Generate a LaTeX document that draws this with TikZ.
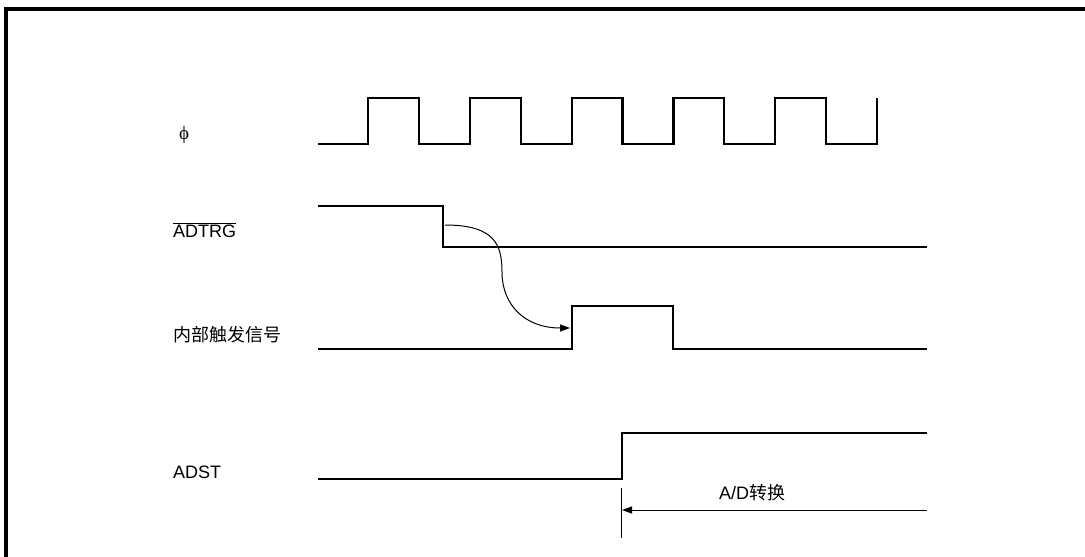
\documentclass[tikz,border=0pt]{standalone}
\usepackage{fontspec}
\setmainfont{Liberation Sans}
\newfontfamily\cjk{Noto Sans CJK SC}
\newfontfamily\serifgr{Liberation Serif}
\usetikzlibrary{arrows.meta}
\begin{document}
\begin{tikzpicture}[x=1pt, y=-1pt, >={Triangle[length=10pt,width=7pt]}]
% Stili per segnali ed etichette
\tikzset{segnale/.style={line width=2.2pt},
  etichetta/.style={anchor=base west, inner sep=0pt, font=\fontsize{18}{20}\selectfont}}

\useasboundingbox (0,0) rectangle (1085,557);

% Cornice
\draw[line width=3.5pt] (6,557) -- (6,9) -- (1085,9);

% Coordinate di riferimento
\coordinate (Tstart) at (445,225);
\coordinate (Tmid) at (502,272);
\coordinate (Tend) at (570,328);
\coordinate (Mtop) at (621,488);
\coordinate (Mbot) at (621,538);
\coordinate (Cfine) at (927,510);
\coordinate (Cinizio) at (622,510);

% --- ETICHETTE ---
\node[inner sep=0pt, font=\serifgr\fontsize{19}{21}\selectfont] (phi) at (184,135) {ϕ};
\node[etichetta] (adtrg) at (173,237) {$\overline{\mbox{ADTRG}}$};
\node[etichetta, font=\cjk\fontsize{18}{20}\selectfont] (trig) at (173,341) {内部触发信号};
\node[etichetta] (adst) at (173,478) {ADST};
\node[anchor=base, inner sep=0pt, font=\fontsize{18}{20}\selectfont] (conv) at (752,499) {A/D{\cjk 转换}};

% --- CLOCK ---
\draw[segnale] (318,144)
  \foreach \x in {368, 469.8, 571.6, 673.4, 775.2} {
    -- (\x,144) -- (\x,98) -- ({\x+50.9},98) -- ({\x+50.9},144)
  } -- (877,144) -- (877,98);

% --- ADTRG ---
\draw[segnale] (318,206) -- (443,206) -- (443,247) -- (927,247);

% --- SEGNALE DI TRIGGER INTERNO ---
\draw[segnale] (318,349) -- (572,349) -- (572,306) -- (673,306) -- (673,349) -- (927,349);

% --- ADST ---
\draw[segnale] (318,479) -- (622,479) -- (622,433) -- (927,433);

% Freccia curva dal fronte di ADTRG al trigger
\draw[->, line width=1pt] (Tstart) .. controls (495,225) and (502,245) .. (Tmid)
  .. controls (502,305) and (525,328) .. (Tend);

% Durata della conversione A/D
\draw[line width=1pt] (Mtop) -- (Mbot);
\draw[->, line width=1pt] (Cfine) -- (Cinizio);

\end{tikzpicture}
\end{document}
